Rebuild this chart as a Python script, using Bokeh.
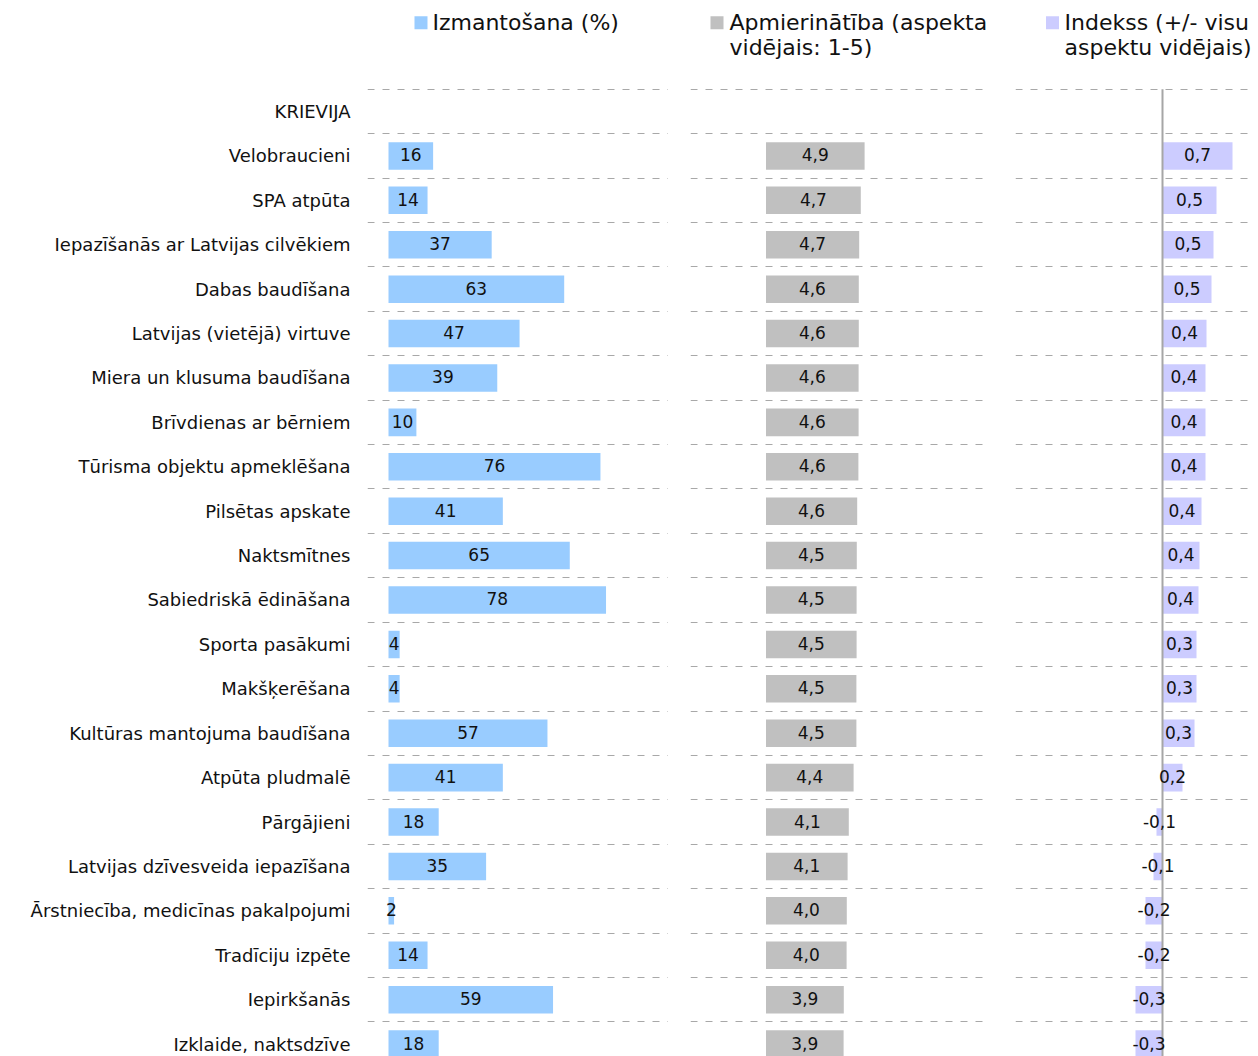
from bokeh.plotting import figure
from bokeh.models import Range1d, FixedTicker, Grid, ColumnDataSource
from bokeh.layouts import row
from bokeh.core.properties import value
from bokeh.embed import file_html
from bokeh.resources import INLINE

# ---------------- data ----------------
group_label = "KRIEVIJA"
categories = [
    "Velobraucieni",
    "SPA atpūta",
    "Iepazīšanās ar Latvijas cilvēkiem",
    "Dabas baudīšana",
    "Latvijas (vietējā) virtuve",
    "Miera un klusuma baudīšana",
    "Brīvdienas ar bērniem",
    "Tūrisma objektu apmeklēšana",
    "Pilsētas apskate",
    "Naktsmītnes",
    "Sabiedriskā ēdināšana",
    "Sporta pasākumi",
    "Makšķerēšana",
    "Kultūras mantojuma baudīšana",
    "Atpūta pludmalē",
    "Pārgājieni",
    "Latvijas dzīvesveida iepazīšana",
    "Ārstniecība, medicīnas pakalpojumi",
    "Tradīciju izpēte",
    "Iepirkšanās",
    "Izklaide, naktsdzīve",
]
usage = [16, 14, 37, 63, 47, 39, 10, 76, 41, 65, 78, 4, 4, 57, 41, 18, 35, 2, 14, 59, 18]
satisfaction = [4.93, 4.74, 4.66, 4.64, 4.64, 4.63, 4.63, 4.62, 4.56, 4.54, 4.53,
                4.53, 4.52, 4.52, 4.38, 4.14, 4.08, 4.04, 4.03, 3.89, 3.88]
index_vals = [0.70, 0.54, 0.51, 0.49, 0.44, 0.43, 0.43, 0.43, 0.39, 0.37, 0.36,
              0.34, 0.34, 0.32, 0.20, -0.06, -0.09, -0.17, -0.17, -0.27, -0.27]
legend_usage = "Izmantošana (%)"
legend_sat = ["Apmierinātība (aspekta", "vidējais: 1-5)"]
legend_idx = ["Indekss (+/- visu", "aspektu vidējais)"]

# ---------------- styling ----------------
C_BLUE = "#99CCFF"
C_GRAY = "#C0C0C0"
C_LAV = "#CCCCFF"
GRID_C = "#a8a8a8"
FONT = "DejaVu Sans"

rows = list(range(1, len(categories) + 1))
yr = Range1d(start=21.28, end=-2.50)
H = 1056
BAR_H = 0.62
LEG_Y1, LEG_Y2 = -2.0, -1.44

def fmt_comma(v):
    return f"{v:.1f}".replace(".", ",")

def make_fig(width, xr, left_border, right_border=0, with_axis=False):
    p = figure(width=width, height=H, x_range=xr, y_range=yr,
               x_axis_location=None, y_axis_location="left" if with_axis else None,
               min_border_left=left_border, min_border_right=right_border,
               min_border_top=0, min_border_bottom=0,
               toolbar_location=None, output_backend="svg",
               outline_line_color=None, background_fill_color="white",
               border_fill_color="white")
    p.center = []
    grid = Grid(dimension=1, ticker=FixedTicker(ticks=[k - 0.5 for k in range(len(categories) + 1)]),
                grid_line_color=GRID_C, grid_line_width=1, grid_line_dash="7 8")
    p.add_layout(grid)
    return p

# panel 1: usage
p1 = make_fig(668, Range1d(-7.53, 100.4), 367, with_axis=True)
ax = p1.yaxis[0]
ax.ticker = FixedTicker(ticks=[0] + rows)
ax.major_label_overrides = {0: group_label, **{r: c for r, c in zip(rows, categories)}}
ax.axis_line_color = None
ax.major_tick_line_color = None
ax.minor_tick_line_color = None
ax.major_tick_out = 0
ax.major_label_standoff = 17
ax.major_label_text_font = FONT
ax.major_label_text_font_size = "18px"
ax.major_label_text_color = "#111111"

src1 = ColumnDataSource(dict(y=rows, v=usage, c=[u / 2 for u in usage], t=[str(u) for u in usage]))
p1.hbar(y="y", left=0, right="v", height=BAR_H, source=src1, fill_color=C_BLUE, line_color=None)
p1.text(x="c", y="y", text="t", source=src1, text_align="center", text_baseline="middle",
        text_font=value(FONT), text_font_size="17px", text_color="#111111", y_offset=-1)
p1.scatter(x=[11.65], y=[LEG_Y1], marker="square", size=13, fill_color=C_BLUE, line_color=None)
p1.text(x=[15.77], y=[LEG_Y1], text=[legend_usage], text_align="left", text_baseline="middle",
        text_font=value(FONT), text_font_size="22px", text_color="#111111")

# panel 2: satisfaction
p2 = make_fig(320, Range1d(-3.775, 11.125), 22)
src2 = ColumnDataSource(dict(y=rows, v=satisfaction, c=[s / 2 for s in satisfaction],
                             t=[fmt_comma(s) for s in satisfaction]))
p2.hbar(y="y", left=0, right="v", height=BAR_H, source=src2, fill_color=C_GRAY, line_color=None)
p2.text(x="c", y="y", text="t", source=src2, text_align="center", text_baseline="middle",
        text_font=value(FONT), text_font_size="17px", text_color="#111111", y_offset=-1)
p2.scatter(x=[-2.45], y=[LEG_Y1], marker="square", size=13, fill_color=C_GRAY, line_color=None)
p2.text(x=[-1.825, -1.825], y=[LEG_Y1, LEG_Y2], text=legend_sat, text_align="left",
        text_baseline="middle", text_font=value(FONT), text_font_size="22px", text_color="#111111")

# panel 3: index
p3 = make_fig(270, Range1d(-1.47, 0.91), 27, right_border=5)
src3 = ColumnDataSource(dict(y=rows, v=index_vals, c=[v / 2 for v in index_vals],
                             t=[fmt_comma(v) for v in index_vals]))
p3.hbar(y="y", left=0, right="v", height=BAR_H, source=src3, fill_color=C_LAV, line_color=None)
p3.segment(x0=[0], y0=[-0.5], x1=[0], y1=[yr.start], line_color="#a6a6a6", line_width=2)
p3.text(x="c", y="y", text="t", source=src3, text_align="center", text_baseline="middle",
        text_font=value(FONT), text_font_size="17px", text_color="#111111", y_offset=-1)
p3.scatter(x=[-1.10], y=[LEG_Y1], marker="square", size=13, fill_color=C_LAV, line_color=None)
p3.text(x=[-0.98, -0.98], y=[LEG_Y1, LEG_Y2], text=legend_idx, text_align="left",
        text_baseline="middle", text_font=value(FONT), text_font_size="22px", text_color="#111111")

layout = row(p1, p2, p3, spacing=0)
open("out.html", "w").write(file_html(layout, INLINE))
